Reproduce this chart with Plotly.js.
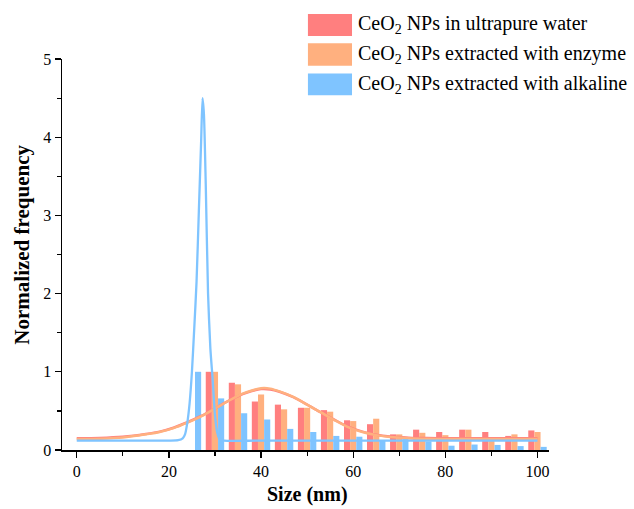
<!DOCTYPE html>
<html>
<head>
<meta charset="utf-8">
<script src="https://cdn.plot.ly/plotly-3.0.1.min.js"></script>
<style>html,body{margin:0;padding:0;background:#fff;}#chart{width:634px;height:509px;}</style>
</head>
<body>
<div id="chart"></div>
<script>
// Bin centres (nm)
const binCenters = [25, 30, 35, 40, 45, 50, 55, 60, 65, 70, 75, 80, 85, 90, 95, 100];
// Histogram values (normalized frequency)
const waterBars    = [0, 1.00, 0.86, 0.62, 0.58, 0.54, 0.51, 0.38, 0.33, 0.20, 0.26, 0.23, 0.26, 0.23, 0.18, 0.25];
const enzymeBars   = [0, 1.00, 0.84, 0.71, 0.52, 0.54, 0.49, 0.37, 0.40, 0.20, 0.22, 0.19, 0.26, 0.16, 0.20, 0.23];
const alkalineBars = [1.00, 0.66, 0.47, 0.39, 0.27, 0.23, 0.18, 0.17, 0.12, 0.14, 0.11, 0.055, 0.07, 0.065, 0.05, 0.04];

// Fitted curves, points
const waterFitX = [0, 5, 10, 15, 18, 21, 24, 27, 30, 33, 36, 38, 40, 42, 44, 47, 50, 53, 56, 59, 62, 65, 68, 72, 76, 80, 90, 100];
const waterFitY = [0.15, 0.155, 0.17, 0.205, 0.235, 0.285, 0.355, 0.435, 0.53, 0.63, 0.715, 0.755, 0.78, 0.775, 0.745, 0.675, 0.58, 0.48, 0.385, 0.295, 0.235, 0.195, 0.172, 0.158, 0.152, 0.15, 0.15, 0.15];
const enzymeFitX = [0, 5, 10, 15, 18, 21, 24, 27, 30, 33, 36, 38, 40, 42, 44, 47, 50, 53, 56, 59, 62, 65, 68, 72, 76, 80, 90, 100];
const enzymeFitY = [0.14, 0.145, 0.16, 0.20, 0.23, 0.28, 0.35, 0.43, 0.53, 0.63, 0.72, 0.76, 0.79, 0.785, 0.75, 0.68, 0.58, 0.48, 0.38, 0.29, 0.23, 0.19, 0.165, 0.15, 0.143, 0.14, 0.14, 0.14];
const alkalineFitX = [0, 20, 22, 23, 23.5, 24, 24.5, 25, 25.5, 26, 26.5, 27, 27.3, 27.6, 28, 28.5, 29, 29.5, 30, 30.5, 31, 32, 40, 100];
const alkalineFitY = [0.12, 0.12, 0.125, 0.15, 0.2, 0.35, 0.6, 1.0, 1.55, 2.15, 3.05, 3.95, 4.5, 4.3, 3.4, 2.0, 1.3, 0.9, 0.45, 0.22, 0.14, 0.12, 0.12, 0.12];

const names = ['CeO<sub>2</sub> NPs in ultrapure water', 'CeO<sub>2</sub> NPs extracted with enzyme', 'CeO<sub>2</sub> NPs extracted with alkaline'];
const colors = ['#FF7F7F', '#FFB07F', '#7FC4FF'];
const serif = 'Liberation Serif, Times New Roman, serif';

const traces = [
  {type: 'bar', x: binCenters, y: waterBars, marker: {color: colors[0]}, name: names[0], showlegend: false},
  {type: 'bar', x: binCenters, y: enzymeBars, marker: {color: colors[1]}, name: names[1], showlegend: false},
  {type: 'bar', x: binCenters, y: alkalineBars, marker: {color: colors[2]}, name: names[2], showlegend: false},
  {type: 'scatter', mode: 'lines', x: waterFitX, y: waterFitY, line: {color: colors[0], width: 2.5, shape: 'spline', smoothing: 0.8}, showlegend: false, hoverinfo: 'skip'},
  {type: 'scatter', mode: 'lines', x: enzymeFitX, y: enzymeFitY, line: {color: colors[1], width: 2.5, shape: 'spline', smoothing: 0.8}, showlegend: false, hoverinfo: 'skip'},
  {type: 'scatter', mode: 'lines', x: alkalineFitX, y: alkalineFitY, line: {color: colors[2], width: 2.3, shape: 'spline', smoothing: 0.6}, showlegend: false, hoverinfo: 'skip'}
];

// custom legend (large swatches)
const legRows = [[1.115, 1.059, 1.087], [1.040, 0.983, 1.011], [0.963, 0.907, 0.936]];
const shapes = legRows.map((r, i) => ({type: 'rect', xref: 'paper', yref: 'paper', x0: 0.505, x1: 0.5955, y0: r[1], y1: r[0], fillcolor: colors[i], line: {width: 0}}));
const annotations = legRows.map((r, i) => ({xref: 'paper', yref: 'paper', x: 0.604, y: r[2], xanchor: 'left', yanchor: 'middle', showarrow: false, text: names[i], font: {family: serif, size: 20, color: '#000'}}));
annotations.push({xref: 'paper', yref: 'paper', x: 0.504, y: -0.114, xanchor: 'center', yanchor: 'middle', showarrow: false,
  text: '<b>Size (nm)</b>', font: {family: serif, size: 20, color: '#000'}});
annotations.push({xref: 'paper', yref: 'paper', x: -0.081, y: 0.524, xanchor: 'center', yanchor: 'middle', showarrow: false, textangle: -90,
  text: '<b>Normalized frequency</b>', font: {family: serif, size: 21, color: '#000'}});

const layout = {
  width: 634, height: 509,
  margin: {l: 62, r: 85, t: 59, b: 59, pad: 0},
  paper_bgcolor: '#fff', plot_bgcolor: '#fff',
  barmode: 'group', bargap: 0.2, bargroupgap: 0,
  showlegend: false,
  font: {family: serif, color: '#000'},
  xaxis: {
    range: [-3.2, 102.5], tickmode: 'linear', tick0: 0, dtick: 20,
    ticks: 'outside', ticklen: 6, tickwidth: 1.3, tickcolor: '#000',
    minor: {dtick: 10, tick0: 0, ticks: 'outside', ticklen: 4, tickwidth: 1.2, tickcolor: '#000', showgrid: false},
    showline: true, linecolor: '#000', linewidth: 1.5, showgrid: false, zeroline: false,
    tickfont: {family: serif, size: 16, color: '#000'}
  },
  yaxis: {
    range: [0, 5], tickmode: 'linear', tick0: 0, dtick: 1,
    ticks: 'outside', ticklen: 6, tickwidth: 1.3, tickcolor: '#000',
    minor: {dtick: 0.5, tick0: 0, ticks: 'outside', ticklen: 4, tickwidth: 1.2, tickcolor: '#000', showgrid: false},
    showline: true, linecolor: '#000', linewidth: 1.5, showgrid: false, zeroline: false,
    tickfont: {family: serif, size: 16, color: '#000'}
  },
  shapes: shapes,
  annotations: annotations
};

Plotly.newPlot('chart', traces, layout, {displayModeBar: false, staticPlot: true});
</script>
</body>
</html>
